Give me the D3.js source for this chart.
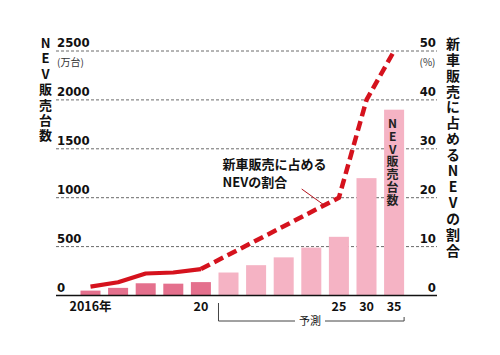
<!DOCTYPE html>
<html>
<head>
<meta charset="utf-8">
<script src="https://cdn.jsdelivr.net/npm/d3@7"></script>
<style>
  html, body { margin: 0; padding: 0; background: #fff; }
  svg { display: block; }
  .num { font-family: "Liberation Sans Narrow", "Arial Narrow", "DejaVu Sans Condensed", sans-serif; font-stretch: condensed; font-weight: 700; }
  .jp { font-family: "Noto Sans CJK JP", "Noto Sans", sans-serif; }
  .vert { writing-mode: vertical-rl; text-orientation: upright; }
</style>
</head>
<body>
<svg id="chart" width="500" height="355"></svg>
<script>
// ---- data ----
const years = ["2016", "2017", "2018", "2019", "2020", "2021", "2022", "2023", "2024", "2025", "2030", "2035"];
const yearLabels = ["2016年", "", "", "", "20", "", "", "", "", "25", "30", "35"];
const salesValues = [50, 78, 125, 121, 137, 235, 310, 390, 490, 600, 1200, 1900]; // 万台
const forecastFlags = [false, false, false, false, false, true, true, true, true, true, true, true];
const shareActual = [1.8, 2.7, 4.5, 4.7, 5.4, null, null, null, null, null, null, null]; // %
const shareForecast = [null, null, null, null, 5.4, null, null, null, null, 20, 40, 50]; // %
const leftTicks = [0, 500, 1000, 1500, 2000, 2500];
const rightTicks = [0, 10, 20, 30, 40, 50];

// ---- setup ----
const svg = d3.select("#chart");
const gridX0 = 56, gridX1 = 437;
const x = d3.scaleBand().domain(years).range([76.7, 407.9]).paddingInner(0.275).paddingOuter(0.1375);
const yL = d3.scaleLinear().domain([0, 2500]).range([295.5, 51]);
const yR = d3.scaleLinear().domain([0, 50]).range([295.5, 51]);

const RED = "#d5121d";
const PINK_DARK = "#e4708d";
const PINK_LIGHT = "#f5b3c4";

// gridlines (dashed)
svg.append("g").selectAll("line")
  .data(leftTicks.filter(d => d > 0))
  .join("line")
  .attr("x1", gridX0).attr("x2", gridX1)
  .attr("y1", d => yL(d)).attr("y2", d => yL(d))
  .attr("stroke", "#6b6b6b").attr("stroke-width", 1)
  .attr("stroke-dasharray", "3,2");

// bars
const bars = years.map((y, i) => ({ year: y, value: salesValues[i], forecast: forecastFlags[i] }));
svg.append("g").selectAll("rect")
  .data(bars)
  .join("rect")
  .attr("x", d => x(d.year))
  .attr("width", x.bandwidth())
  .attr("y", d => yL(d.value))
  .attr("height", d => yL(0) - yL(d.value))
  .attr("fill", d => d.forecast ? PINK_LIGHT : PINK_DARK);

// baseline
svg.append("line")
  .attr("x1", gridX0).attr("x2", gridX1)
  .attr("y1", yL(0)).attr("y2", yL(0))
  .attr("stroke", "#111").attr("stroke-width", 1.6);

// left axis labels
const leftAxis = d3.axisLeft(yL).tickValues(leftTicks).tickSize(0).tickFormat(d3.format("d"));
const gl = svg.append("g").attr("transform", `translate(${gridX0},0)`).call(leftAxis);
gl.select(".domain").remove();
gl.selectAll("text")
  .attr("class", "num")
  .attr("x", 1).attr("dy", "-4.3")
  .attr("text-anchor", "start")
  .attr("font-size", 13).attr("fill", "#111");

// right axis labels
const rightAxis = d3.axisRight(yR).tickValues(rightTicks).tickSize(0).tickFormat(d3.format("d"));
const gr = svg.append("g").attr("transform", `translate(${gridX1},0)`).call(rightAxis);
gr.select(".domain").remove();
gr.selectAll("text")
  .attr("class", "num")
  .attr("x", -1).attr("dy", "-4.3")
  .attr("text-anchor", "end")
  .attr("font-size", 13).attr("fill", "#111");

// unit labels
svg.append("text").attr("class", "jp").attr("x", 57).attr("y", 65.5)
  .attr("font-size", 10).attr("fill", "#333").text("(万台)");
svg.append("text").attr("class", "jp").attr("x", 435.5).attr("y", 65.5)
  .attr("text-anchor", "end").attr("font-size", 10).attr("fill", "#333").text("(%)");

// x axis labels
const xAxis = d3.axisBottom(x).tickSize(0).tickFormat((d, i) => yearLabels[i]);
const gx = svg.append("g").attr("transform", `translate(0,${yL(0)})`).call(xAxis);
gx.select(".domain").remove();
gx.selectAll("text")
  .attr("class", "num jp")
  .attr("y", 15.5).attr("dy", 0)
  .attr("font-size", 12.5).attr("fill", "#111")
  .style("font-family", "'Liberation Sans Narrow','Noto Sans CJK JP',sans-serif")
  .style("font-weight", 700);

// forecast bracket
const bx0 = x("2021"), bx1 = x("2035") + x.bandwidth();
const by = 321;
svg.append("path")
  .attr("d", `M${bx0},303 V${by} H295`)
  .attr("fill", "none").attr("stroke", "#444").attr("stroke-width", 1);
svg.append("path")
  .attr("d", `M325,${by} H${bx1} V317`)
  .attr("fill", "none").attr("stroke", "#444").attr("stroke-width", 1);
svg.append("text").attr("class", "jp").attr("x", 310).attr("y", 325)
  .attr("text-anchor", "middle").attr("font-size", 11).attr("fill", "#111").text("予測");

// share lines
const line = d3.line()
  .x(d => x(d.year) + x.bandwidth() / 2)
  .y(d => yR(d.v));
const actualPts = years.map((y, i) => ({ year: y, v: shareActual[i] })).filter(d => d.v != null);
const forecastPts = years.map((y, i) => ({ year: y, v: shareForecast[i] })).filter(d => d.v != null);
svg.append("path").datum(actualPts).attr("d", line)
  .attr("fill", "none").attr("stroke", RED).attr("stroke-width", 4.2)
  .attr("stroke-linejoin", "round");
svg.append("path").datum(forecastPts).attr("d", line)
  .attr("fill", "none").attr("stroke", RED).attr("stroke-width", 4.5)
  .attr("stroke-dasharray", "10,5");

// bar label on 2035 bar
svg.append("text").attr("class", "jp vert")
  .attr("x", x("2035") + x.bandwidth() / 2 - 1.5).attr("y", 117.5)
  .attr("font-size", 12).attr("font-weight", 700).attr("letter-spacing", 0.8)
  .attr("fill", "#222").text("NEV販売台数");

// annotation for line
svg.append("text").attr("class", "jp").attr("x", 222.5).attr("y", 168.7)
  .attr("font-size", 13).attr("font-weight", 700).attr("fill", "#111").text("新車販売に占める");
svg.append("text").attr("class", "jp").attr("x", 222.5).attr("y", 187)
  .attr("font-size", 13).attr("font-weight", 700).attr("fill", "#111").text("NEVの割合");
svg.append("line")
  .attr("x1", 301.7).attr("y1", 189).attr("x2", 324).attr("y2", 205)
  .attr("stroke", "#b3121c").attr("stroke-width", 1);

// axis titles (vertical)
svg.append("text").attr("class", "jp vert")
  .attr("x", 45.5).attr("y", 36.5)
  .attr("font-size", 13).attr("font-weight", 700).attr("letter-spacing", 2.4)
  .attr("fill", "#111").text("NEV販売台数");
svg.append("text").attr("class", "jp vert")
  .attr("x", 453).attr("y", 36.5)
  .attr("font-size", 14).attr("font-weight", 700).attr("letter-spacing", 1.9)
  .attr("fill", "#111").text("新車販売に占めるNEVの割合");
</script>
</body>
</html>
